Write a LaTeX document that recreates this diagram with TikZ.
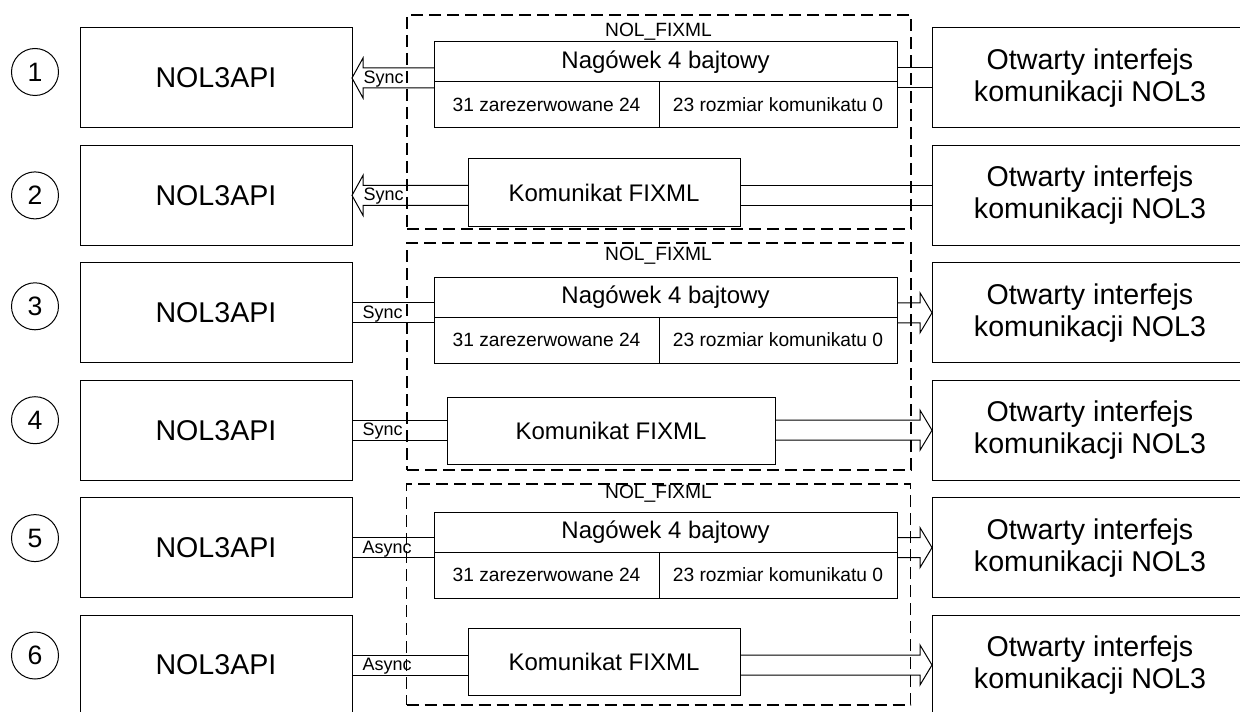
\documentclass[tikz,border=0pt]{standalone}
\usepackage{fontspec}
\setmainfont{Liberation Sans}
\usetikzlibrary{positioning}
\usetikzlibrary{calc}

\begin{document}
\begin{tikzpicture}[x=0.5pt, y=-0.5pt, line width=.5pt,
		box/.style={draw, outer sep=0pt, minimum width=136pt, minimum height=50pt, align=center, font=\fontsize{14.3}{16}\selectfont},
		iface/.style={box, minimum width=158pt},
		num/.style={draw, circle, minimum size=23.5pt, inner sep=0pt, font=\fontsize{13.3}{15}\selectfont},
		group box/.style={draw, line width=.8pt, dash pattern=on 6pt off 3pt, inner sep=0pt, minimum width=252pt},
		grouptitle/.style={anchor=base, inner sep=0pt, font=\fontsize{9.6}{11}\selectfont},
		field/.style={draw, outer sep=0pt, inner sep=0pt, minimum height=23pt, font=\fontsize{9.6}{11}\selectfont},
		hdrcell/.style={field, minimum width=231.5pt, minimum height=20pt, font=\fontsize{12}{14}\selectfont},
		msg/.style={draw, outer sep=0pt, minimum height=33.5pt, font=\fontsize{12}{14}\selectfont},
		tag/.style={anchor=base west, inner sep=0pt, font=\fontsize{9}{11}\selectfont},
		pipe/.style={to path={($(\tikztostart)+(0,5pt)$) -- ($(\tikztotarget)+(0,5pt)$)
				($(\tikztostart)+(0,-5pt)$) -- ($(\tikztotarget)+(0,-5pt)$)}},
		pipe arrow/.style={to path={($(\tikztostart)+(0,5pt)$) -- ($(\tikztotarget)+(#1,5pt)$) -- ++(0,5pt)
				-- (\tikztotarget) -- ($(\tikztotarget)+(#1,-10pt)$) -- ++(0,5pt) -- ($(\tikztostart)+(0,-5pt)$)}}]
		\useasboundingbox (0,0) rectangle (1240,711);
		
		% left column
		\node[box] (api1) at (216,78) {NOL3API};
		\node[box, below=8.7pt of api1] (api2) {NOL3API};
		\node[box, below=8.7pt of api2] (api3) {NOL3API};
		\node[box, below=8.7pt of api3] (api4) {NOL3API};
		\node[box, below=8.7pt of api4] (api5) {NOL3API};
		\node[box, below=8.7pt of api5] (api6) {NOL3API};
		
		\node[num, left=10.5pt of api1, yshift=3pt] (num1) {1};
		\node[num, left=10.5pt of api2] (num2) {2};
		\node[num, left=10.5pt of api3, yshift=3.25pt] (num3) {3};
		\node[num, left=10.5pt of api4, yshift=5pt] (num4) {4};
		\node[num, left=10.5pt of api5, yshift=4.75pt] (num5) {5};
		\node[num, left=10.5pt of api6, yshift=4.75pt] (num6) {6};
		
		% right column
		\node[iface, right=290pt of api1] (nol1) {Otwarty interfejs\\komunikacji NOL3};
		\node[iface, right=290pt of api2] (nol2) {Otwarty interfejs\\komunikacji NOL3};
		\node[iface, right=290pt of api3] (nol3) {Otwarty interfejs\\komunikacji NOL3};
		\node[iface, right=290pt of api4] (nol4) {Otwarty interfejs\\komunikacji NOL3};
		\node[iface, right=290pt of api5] (nol5) {Otwarty interfejs\\komunikacji NOL3};
		\node[iface, right=290pt of api6] (nol6) {Otwarty interfejs\\komunikacji NOL3};
		
		% NOL_FIXML frames
		\node[group box, minimum height=107pt] (grp1) at (659,122) {};
		\node[group box, minimum height=113.5pt] (grp2) at (659,356.5) {};
		\node[group box, minimum height=110.5pt] (grp3) at (658.5,594.5) {};
		\node[grouptitle] (lab1) at (658.5,37) {NOL\_FIXML};
		\node[grouptitle] (lab2) at (658.5,260) {NOL\_FIXML};
		\node[grouptitle] (lab3) at (658.5,498) {NOL\_FIXML};
		
		% headers
		\node[hdrcell] (hdr1) at (665.5,62) {Nagówek 4 bajtowy};
		\node[field, minimum width=112.5pt, below right=0pt and 0pt of hdr1.south west] (res1) {31 zarezerwowane 24};
		\node[field, minimum width=119pt, right=0pt of res1] (len1) {23 rozmiar komunikatu 0};
		\node[hdrcell] (hdr3) at (665.5,297) {Nagówek 4 bajtowy};
		\node[field, minimum width=112.5pt, below right=0pt and 0pt of hdr3.south west] (res3) {31 zarezerwowane 24};
		\node[field, minimum width=119pt, right=0pt of res3] (len3) {23 rozmiar komunikatu 0};
		\node[hdrcell] (hdr5) at (665.5,532) {Nagówek 4 bajtowy};
		\node[field, minimum width=112.5pt, below right=0pt and 0pt of hdr5.south west] (res5) {31 zarezerwowane 24};
		\node[field, minimum width=119pt, right=0pt of res5] (len5) {23 rozmiar komunikatu 0};
		
		% messages
		\node[msg, minimum width=136pt] (msg2) at (604,192.5) {Komunikat FIXML};
		\node[msg, minimum width=164pt] (msg4) at (611,430.5) {Komunikat FIXML};
		\node[msg, minimum width=136pt] (msg6) at (604,661.5) {Komunikat FIXML};
		
		% connectors
		\draw (api1.east -| hdr1.west) to[pipe arrow=5.5pt] (api1.east);
		\draw (nol1.west -| hdr1.east) to[pipe] (nol1.west);
		\draw (api2.east -| msg2.west) to[pipe arrow=5.5pt] (api2.east);
		\draw (nol2.west -| msg2.east) to[pipe] (nol2.west);
		\draw (api3.east -| hdr3.west) to[pipe] (api3.east);
		\draw (nol3.west -| hdr3.east) to[pipe arrow=-6pt] (nol3.west);
		\draw (api4.east -| msg4.west) to[pipe] (api4.east);
		\draw (nol4.west -| msg4.east) to[pipe arrow=-6pt] (nol4.west);
		\draw (api5.east -| hdr5.west) to[pipe] (api5.east);
		\draw (nol5.west -| hdr5.east) to[pipe arrow=-6pt] (nol5.west);
		\draw (api6.east -| msg6.west) to[pipe] (api6.east);
		\draw (nol6.west -| msg6.east) to[pipe arrow=-6pt] (nol6.west);
		
		\node[tag] (sig1) at ([xshift=5.5pt, yshift=-2.75pt]api1.east) {Sync};
		\node[tag] (sig2) at ([xshift=5.5pt, yshift=-2.75pt]api2.east) {Sync};
		\node[tag] (sig3) at ([xshift=5pt, yshift=-2.75pt]api3.east) {Sync};
		\node[tag] (sig4) at ([xshift=5pt, yshift=-2.75pt]api4.east) {Sync};
		\node[tag] (sig5) at ([xshift=5pt, yshift=-2.75pt]api5.east) {Async};
		\node[tag] (sig6) at ([xshift=5pt, yshift=-2.75pt]api6.east) {Async};
	\end{tikzpicture}
\end{document}
